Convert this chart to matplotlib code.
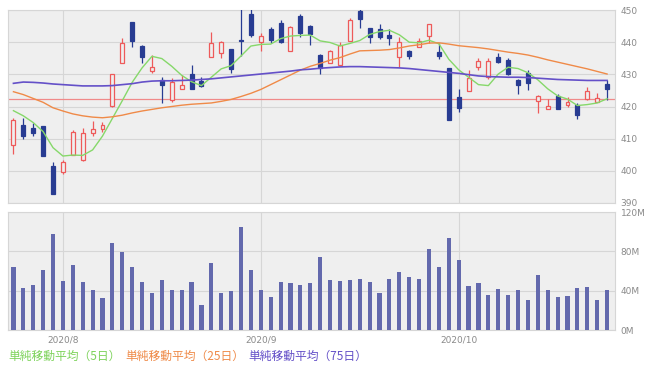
import matplotlib.pyplot as plt
import numpy as np

# 日足データ (2020/7 下旬 - 2020/10 下旬)
opens = [407.9, 414.1, 413.3, 413.8, 401.6, 399.6, 404.9, 403.4, 411.9, 413.0,
         420.2, 433.4, 446.2, 438.9, 431.1, 428.3, 422.0, 425.4, 430.1, 428.0,
         435.3, 436.5, 437.9, 440.6, 448.8, 440.2, 444.0, 446.1, 437.4, 448.2,
         445.0, 436.0, 433.4, 432.9, 440.5, 449.8, 444.3, 444.0, 442.2, 435.5,
         437.4, 438.6, 441.9, 437.0, 431.9, 423.1, 424.8, 432.4, 429.3, 435.3,
         434.5, 428.3, 430.3, 421.8, 419.2, 423.3, 420.6, 420.5, 422.3, 421.5, 427.0]
highs = [416.5, 416.4, 414.8, 414.0, 402.9, 403.4, 412.7, 413.3, 415.6, 415.3,
         430.2, 441.2, 446.4, 439.0, 436.0, 429.1, 428.8, 429.8, 432.9, 429.3,
         443.3, 440.5, 438.0, 452.0, 452.0, 442.8, 444.7, 446.9, 445.0, 448.8,
         445.2, 436.2, 437.7, 440.2, 447.5, 451.0, 444.5, 445.7, 444.0, 441.5,
         437.7, 441.2, 445.6, 439.8, 432.0, 425.4, 431.2, 435.0, 435.0, 436.5,
         435.0, 428.5, 431.2, 423.5, 422.3, 423.9, 422.9, 421.0, 426.0, 424.3, 428.3]
lows = [405.3, 409.8, 410.7, 404.5, 392.8, 399.0, 404.8, 403.0, 410.9, 412.2,
        419.9, 433.4, 438.6, 433.4, 430.5, 421.2, 421.5, 425.3, 425.3, 426.0,
        435.3, 435.0, 430.3, 435.6, 441.7, 437.4, 439.7, 439.7, 437.4, 441.5,
        439.1, 430.1, 433.4, 432.9, 440.5, 444.3, 439.7, 441.0, 439.1, 432.4,
        434.7, 438.6, 439.8, 434.7, 415.8, 418.4, 424.8, 431.4, 428.5, 433.5,
        429.8, 423.9, 425.2, 418.1, 419.2, 419.2, 419.8, 416.1, 422.0, 421.5, 422.0]
closes = [415.8, 410.7, 411.9, 404.7, 392.9, 402.6, 412.2, 411.7, 413.0, 414.3,
          430.1, 439.7, 440.5, 435.3, 432.4, 426.7, 427.5, 426.7, 425.4, 426.4,
          439.7, 440.2, 431.6, 440.4, 442.2, 441.9, 440.7, 440.2, 444.6, 443.0,
          442.5, 431.9, 437.4, 439.1, 446.9, 447.1, 441.5, 441.7, 441.2, 440.0,
          435.7, 440.5, 445.6, 435.7, 415.8, 419.5, 428.8, 434.0, 434.3, 433.8,
          430.1, 426.7, 427.4, 423.3, 420.0, 419.2, 421.5, 417.4, 424.9, 422.6, 425.4]
volumes = [64.4, 42.7, 46.0, 60.7, 98.0, 49.9, 65.8, 48.9, 40.4, 32.6,
           88.2, 79.0, 64.4, 48.9, 37.7, 50.6, 41.0, 41.0, 48.9, 25.8,
           67.9, 37.7, 39.7, 104.8, 60.7, 41.0, 33.6, 48.9, 48.2, 46.0,
           48.2, 74.6, 50.9, 49.9, 50.6, 51.6, 49.2, 38.0, 52.2, 59.4,
           54.0, 51.6, 82.4, 63.8, 93.3, 71.2, 44.5, 48.2, 35.3, 42.0,
           36.0, 41.0, 30.8, 55.6, 41.0, 33.6, 34.3, 42.7, 43.8, 30.2, 41.0]

# 移動平均 (チャートから読み取り)
ma5 = [418.7, 417.1, 415.0, 412.2, 407.2, 404.6, 404.9, 404.8, 406.5, 410.8,
       416.3, 421.8, 427.5, 432.0, 435.6, 434.9, 432.5, 429.7, 427.7, 426.5,
       429.1, 431.7, 432.7, 435.7, 438.8, 439.3, 439.4, 441.1, 441.9, 442.1,
       442.2, 440.4, 439.9, 438.8, 439.6, 440.5, 442.4, 443.3, 443.7, 442.3,
       440.0, 439.8, 440.6, 439.5, 434.7, 431.4, 429.1, 426.8, 426.5, 430.1,
       432.2, 431.8, 430.5, 428.3, 425.5, 423.3, 422.3, 420.3, 420.6, 421.1, 422.4]
ma25 = [424.6, 423.7, 422.5, 421.3, 419.6, 418.6, 417.7, 417.1, 416.7, 416.5,
        416.8, 417.3, 418.0, 418.6, 419.1, 419.6, 420.0, 420.4, 420.7, 420.9,
        421.1, 421.6, 422.2, 423.1, 424.1, 425.3, 426.8, 428.3, 429.8, 431.3,
        432.5, 433.4, 434.4, 435.2, 436.3, 437.3, 437.4, 437.5, 437.7, 438.2,
        438.8, 439.2, 439.7, 439.8, 439.4, 438.9, 438.6, 438.3, 437.9, 437.4,
        436.9, 436.5, 436.0, 435.3, 434.5, 433.8, 433.1, 432.4, 431.7, 430.9, 430.1]
ma75 = [427.2, 427.6, 427.5, 427.3, 427.0, 426.8, 426.6, 426.4, 426.4, 426.4,
        426.5, 426.8, 427.1, 427.6, 427.9, 428.0, 428.0, 428.1, 428.2, 428.4,
        428.6, 428.9, 429.2, 429.5, 429.8, 430.1, 430.4, 430.7, 431.0, 431.4,
        431.6, 431.9, 432.1, 432.3, 432.4, 432.4, 432.3, 432.2, 432.1, 432.0,
        431.8, 431.5, 431.2, 430.9, 430.6, 430.3, 429.9, 429.5, 429.3, 429.2,
        429.1, 429.1, 429.0, 428.8, 428.6, 428.4, 428.3, 428.2, 428.1, 428.1, 428.1]

ref_price = 422.3
month_pos = [5, 25, 45]
month_labels = ['2020/8', '2020/9', '2020/10']
week_pos = [10, 14, 19, 29, 34, 39, 51, 56]

bg = '#efefef'
grid_c = '#d6d6d6'
red = '#ee5a5a'
blue = '#283c92'
lab_c = '#8a8a8a'

x = np.arange(len(closes))

fig = plt.figure(figsize=(6.5, 3.71), dpi=100)
ax = fig.add_axes([8/650, 1-203/371, 607/650, 193/371])
axv = fig.add_axes([8/650, 1-330/371, 607/650, 118/371])

for a in (ax, axv):
    a.set_facecolor(bg)
    a.set_xlim(-0.55, 60.8)
    for s in a.spines.values():
        s.set_color(grid_c)
        s.set_linewidth(0.8)
    a.yaxis.tick_right()
    a.tick_params(axis='y', length=0, labelsize=6.5, labelcolor=lab_c, pad=4)
    a.grid(True, color=grid_c, linewidth=0.8)
    a.set_axisbelow(True)
    a.set_xticks(month_pos)

# ローソク足
ax.axhline(ref_price, color='#f08a8a', linewidth=0.9, zorder=2)
for i in x:
    o, h, l, c = opens[i], highs[i], lows[i], closes[i]
    up = c >= o
    col = red if up else blue
    ax.vlines(i, l, h, color=col, linewidth=0.9, zorder=3)
    ax.bar(i, max(abs(c - o), 0.3), bottom=min(o, c), width=0.4,
           facecolor=bg if up else blue, edgecolor=col, linewidth=0.9, zorder=4)

ax.plot(x, ma5, color='#86d86a', linewidth=1.0, zorder=5)
ax.plot(x, ma25, color='#ef8a48', linewidth=1.0, zorder=5)
ax.plot(x, ma75, color='#6450c8', linewidth=1.2, zorder=5)

ax.set_ylim(390, 450)
ax.set_yticks(np.arange(390, 451, 10))
ax.tick_params(axis='x', length=0, labelbottom=False)

# 出来高
axv.bar(x, volumes, width=0.42, color='#6369ad', zorder=3)
axv.set_ylim(0, 120)
axv.set_yticks([0, 40, 80, 120])
axv.set_yticklabels(['0M', '40M', '80M', '120M'])
axv.set_xticklabels(month_labels)
axv.tick_params(axis='x', length=0, labelsize=6.5, labelcolor=lab_c, pad=4)
axv.set_xticks(week_pos, minor=True)
axv.tick_params(axis='x', which='minor', direction='in', length=3, color='#c8c8c8')

jp = ['Noto Sans CJK JP', 'DejaVu Sans']
fig.text(8/650, 1-356/371, '単純移動平均（5日）', color='#7ed35c', fontsize=8.5, family=jp, va='center')
fig.text(125/650, 1-356/371, '単純移動平均（25日）', color='#ef8a48', fontsize=8.5, family=jp, va='center')
fig.text(248/650, 1-356/371, '単純移動平均（75日）', color='#6450c8', fontsize=8.5, family=jp, va='center')

fig.savefig('out.png', dpi=100, facecolor='white')
